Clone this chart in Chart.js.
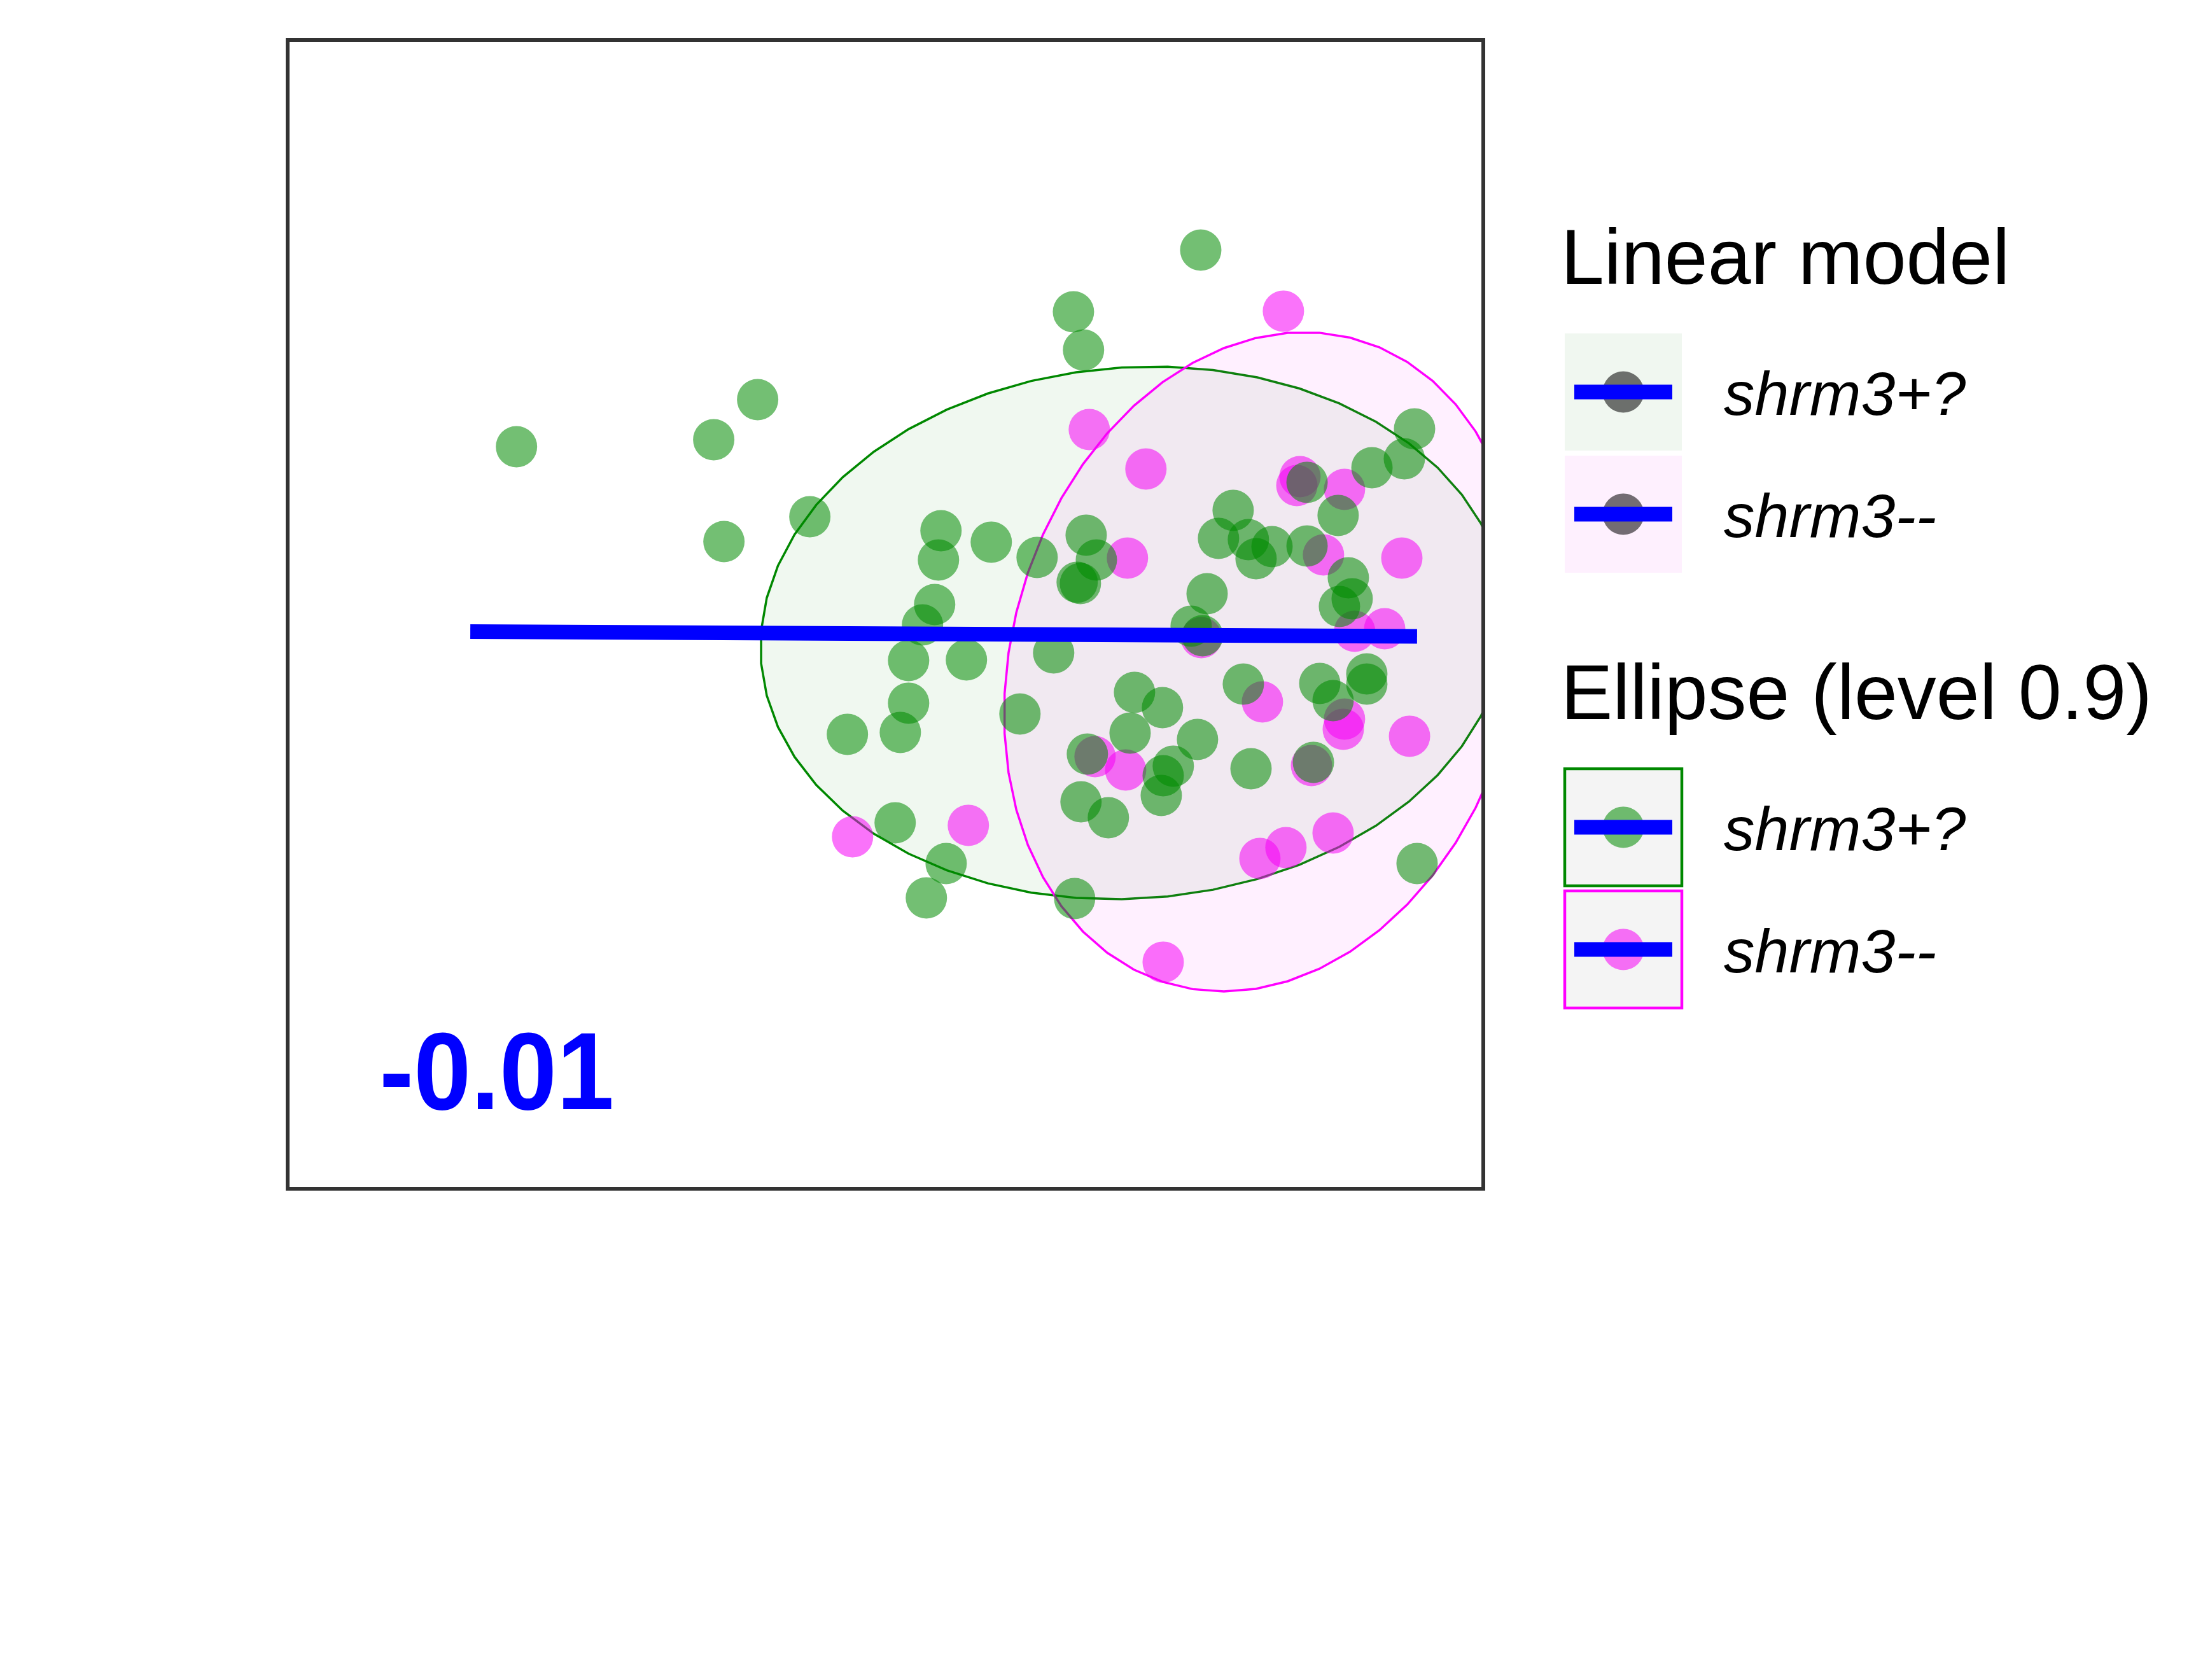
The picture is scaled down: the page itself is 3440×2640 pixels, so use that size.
<!DOCTYPE html>
<html>
<head>
<meta charset="utf-8">
<script src="https://cdn.jsdelivr.net/npm/chart.js@4.4.1/dist/chart.umd.min.js"></script>
<style>
  html, body { margin: 0; padding: 0; background: #ffffff; }
  #wrap { width: 3440px; height: 2640px; }
  canvas { display: block; }
</style>
</head>
<body>
<div id="wrap"><canvas id="c" width="3440" height="2640" style="width:3440px;height:2640px"></canvas></div>
<script>
// ---------------- data (arbitrary unlabeled axes) ----------------
const seriesNames = ['shrm3+?', 'shrm3--'];
const legendTitles = ['Linear model', 'Ellipse (level 0.9)'];

const plusX = [1.942, 3.952, 3.586, 3.671, 4.387, 5.480, 5.459, 5.899, 7.645, 6.584,
               6.668, 9.427, 9.342, 9.072, 8.531, 8.790, 7.915, 7.793, 8.042, 8.239,
               8.106, 8.531, 8.875, 8.907, 8.801, 6.281, 6.690, 6.775, 6.615, 6.642,
               5.427, 5.326, 5.210, 5.692, 6.419, 5.210, 5.141, 4.700, 6.138, 7.093,
               7.326, 7.056, 6.700, 6.647, 6.875, 5.098, 5.523, 5.358, 6.594, 7.698,
               7.565, 7.660, 8.000, 8.637, 9.029, 9.029, 8.748, 7.618, 7.416, 7.332,
               7.316, 8.064, 8.584, 9.448];
const plusY = [6.460, 6.870, 6.521, 5.634, 5.850, 5.729, 5.474, 5.629, 8.172, 7.634,
               7.302, 6.615, 6.355, 6.277, 6.150, 5.862, 5.906, 5.662, 5.651, 5.590,
               5.485, 5.596, 5.319, 5.136, 5.069, 5.496, 5.690, 5.474, 5.280, 5.269,
               5.086, 4.909, 4.598, 4.604, 4.665, 4.227, 3.972, 3.956, 4.133, 4.321,
               4.188, 3.967, 3.784, 3.368, 3.230, 3.186, 2.831, 2.532, 2.526, 5.180,
               4.898, 4.814, 4.393, 4.399, 4.482, 4.393, 4.249, 3.911, 3.679, 3.596,
               3.424, 3.657, 3.712, 2.831];

const minusX = [8.334, 6.716, 7.188, 8.472, 8.446, 8.843, 8.668, 9.321, 7.034, 6.764,
                7.019, 4.743, 5.708, 8.928, 9.178, 7.650, 8.159, 8.843, 8.833, 9.385,
                8.568, 8.138, 8.355, 8.748, 7.332];
const minusY = [7.640, 6.609, 6.266, 6.199, 6.122, 6.089, 5.518, 5.490, 5.490, 3.762,
                3.645, 3.064, 3.163, 4.853, 4.875, 4.798, 4.238, 4.089, 4.000, 3.939,
                3.684, 2.875, 2.970, 3.097, 1.972];

// fitted linear model (endpoints)
const lineX = [1.557, 9.448];
const lineY = [4.850, 4.809];

// 0.9-level ellipses: centre [x, y], spread [sdX, sdY, correlation]
const ellipsePlusCentre  = [7.083, 4.839];
const ellipsePlusSpread  = [3.108, 2.319, 0.053];
const ellipseMinusCentre = [8.170, 4.587];
const ellipseMinusSpread = [2.164, 2.870, 0.157];
const ellipseSegments = 51;

// panel ranges
const xRange = [0.0345, 10.0];
const yRange = [0, 10];

const corrLabel = '-0.01';
const corrLabelPos = [0.80, 0.6925];

// ---------------- styles ----------------
const GREEN = '#008800';
const MAGENTA = '#FF00FF';
const BLUE = '#0000FF';
const greenPoint = 'rgba(0,139,0,0.55)';
const magentaPoint = 'rgba(245,0,245,0.55)';
const greenFill = 'rgba(0,128,0,0.06)';
const magentaFill = 'rgba(255,0,255,0.06)';
const FONT = '"Liberation Sans", Arial, Helvetica, sans-serif';

function zip(xs, ys) { return xs.map((x, i) => ({ x: x, y: ys[i] })); }

// ellipse outline from centre and spread (cholesky of the shape matrix, like stat_ellipse)
function ellipsePath(centre, spread, n) {
  const sx = spread[0], sy = spread[1], r = spread[2];
  const r22 = Math.sqrt(1 - r * r);
  const pts = [];
  for (let i = 0; i <= n; i++) {
    const t = 2 * Math.PI * i / n;
    const c = Math.cos(t), s = Math.sin(t);
    pts.push({ x: centre[0] + sx * c, y: centre[1] + sy * (r * c + r22 * s) });
  }
  return pts;
}

// ---------------- plugins ----------------
const panelBorder = {
  id: 'panelBorder',
  afterDraw(chart) {
    const a = chart.chartArea, ctx = chart.ctx;
    ctx.save();
    ctx.strokeStyle = '#333333';
    ctx.lineWidth = 6;
    ctx.strokeRect(a.left, a.top, a.right - a.left, a.bottom - a.top);
    ctx.restore();
  }
};

const corrText = {
  id: 'corrText',
  afterDatasetsDraw(chart) {
    const ctx = chart.ctx;
    const x = chart.scales.x.getPixelForValue(corrLabelPos[0]);
    const y = chart.scales.y.getPixelForValue(corrLabelPos[1]);
    ctx.save();
    ctx.translate(x, y);
    ctx.scale(0.94, 1);
    ctx.font = 'bold 172px ' + FONT;
    ctx.fillStyle = BLUE;
    ctx.textAlign = 'left';
    ctx.textBaseline = 'alphabetic';
    ctx.fillText(corrLabel, 0, 0);
    ctx.restore();
  }
};

const ggLegend = {
  id: 'ggLegend',
  afterDraw(chart) {
    const ctx = chart.ctx;
    const left = chart.chartArea.right + 128;   // key column left
    const keySize = 184, keyPitch = 192;
    const textX = left + 250;
    const titleX = left - 6;

    function key(top, bg, border, pointColor) {
      const cx = left + keySize / 2, cy = top + keySize / 2;
      ctx.fillStyle = bg;
      ctx.fillRect(left, top, keySize, keySize);
      ctx.beginPath();
      ctx.arc(cx, cy, 32.5, 0, Math.PI * 2);
      ctx.fillStyle = pointColor;
      ctx.fill();
      ctx.fillStyle = BLUE;
      ctx.fillRect(left + 15, cy - 11.5, 154, 23);
      if (border) {
        ctx.strokeStyle = border;
        ctx.lineWidth = 4.5;
        ctx.strokeRect(left, top, keySize, keySize);
      }
    }
    function label(text, top) {
      ctx.font = 'italic 97px ' + FONT;
      ctx.fillStyle = '#000000';
      ctx.textBaseline = 'alphabetic';
      ctx.fillText(text, textX, top + keySize / 2 + 36);
    }

    ctx.save();
    ctx.textAlign = 'left';
    // legend 1
    ctx.font = '122px ' + FONT;
    ctx.fillStyle = '#000000';
    ctx.fillText(legendTitles[0], titleX, 445.5);
    const t1 = 524;
    key(t1, 'rgb(240,247,240)', null, 'rgba(0,0,0,0.55)');
    label(seriesNames[0], t1);
    key(t1 + keyPitch, 'rgb(254,240,254)', null, 'rgba(0,0,0,0.55)');
    label(seriesNames[1], t1 + keyPitch);
    // legend 2
    ctx.font = '122px ' + FONT;
    ctx.fillStyle = '#000000';
    ctx.fillText(legendTitles[1], titleX, 1130);
    const t2 = 1208;
    key(t2, '#F4F4F4', GREEN, greenPoint);
    label(seriesNames[0], t2);
    key(t2 + keyPitch, '#F4F4F4', MAGENTA, magentaPoint);
    label(seriesNames[1], t2 + keyPitch);
    ctx.restore();
  }
};

// ---------------- chart ----------------
const ctx = document.getElementById('c').getContext('2d');
new Chart(ctx, {
  type: 'line',
  data: {
    datasets: [
      {
        label: 'lm',
        data: zip(lineX, lineY),
        borderColor: BLUE, borderWidth: 23, borderCapStyle: 'butt',
        pointRadius: 0, fill: false, tension: 0, order: 0
      },
      {
        label: seriesNames[0],
        data: zip(plusX, plusY),
        showLine: false, pointRadius: 32.5, pointBorderWidth: 0,
        pointBackgroundColor: greenPoint, pointBorderColor: 'rgba(0,0,0,0)',
        order: 1
      },
      {
        label: seriesNames[1],
        data: zip(minusX, minusY),
        showLine: false, pointRadius: 32.5, pointBorderWidth: 0,
        pointBackgroundColor: magentaPoint, pointBorderColor: 'rgba(0,0,0,0)',
        order: 2
      },
      {
        label: 'ellipse ' + seriesNames[1],
        data: ellipsePath(ellipseMinusCentre, ellipseMinusSpread, ellipseSegments),
        borderColor: MAGENTA, borderWidth: 3.5, backgroundColor: magentaFill,
        fill: 'shape', pointRadius: 0, tension: 0, clip: 0, order: 3
      },
      {
        label: 'ellipse ' + seriesNames[0],
        data: ellipsePath(ellipsePlusCentre, ellipsePlusSpread, ellipseSegments),
        borderColor: GREEN, borderWidth: 3.5, backgroundColor: greenFill,
        fill: 'shape', pointRadius: 0, tension: 0, clip: 0, order: 4
      }
    ]
  },
  options: {
    responsive: false,
    maintainAspectRatio: false,
    animation: false,
    devicePixelRatio: 1,
    events: [],
    layout: { padding: { left: 452, top: 63, right: 1109, bottom: 772 } },
    scales: {
      x: { type: 'linear', min: xRange[0], max: xRange[1], display: false },
      y: { type: 'linear', min: yRange[0], max: yRange[1], display: false }
    },
    plugins: {
      legend: { display: false },
      tooltip: { enabled: false },
      title: { display: false }
    }
  },
  plugins: [corrText, ggLegend, panelBorder]
});
</script>
</body>
</html>
